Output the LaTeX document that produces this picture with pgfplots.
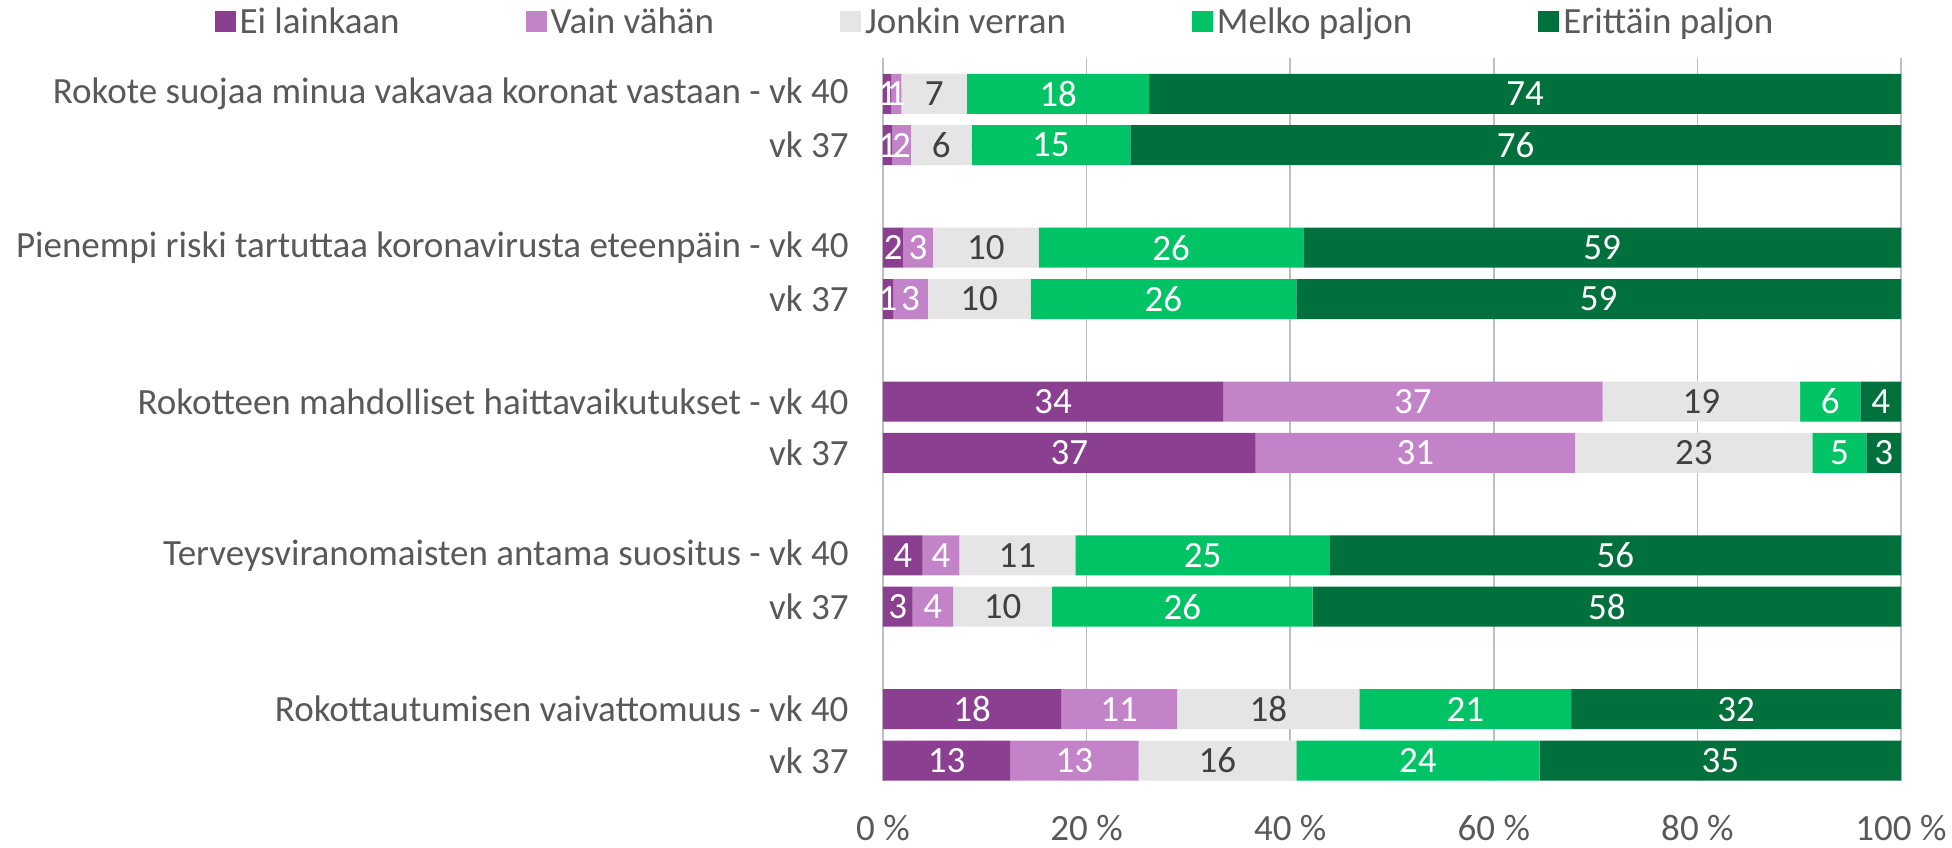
\documentclass[border=0pt]{standalone}
\usepackage{pgfplots}
\usepackage{pgfplotstable}
\pgfplotsset{compat=1.18}
\usepackage{fontspec}
\setmainfont{Carlito}
\definecolor{c1}{HTML}{8B3F91}
\definecolor{c2}{HTML}{C383C8}
\definecolor{c3}{HTML}{E5E5E5}
\definecolor{c4}{HTML}{00C366}
\definecolor{c5}{HTML}{00703C}
\definecolor{txt}{HTML}{595959}
\definecolor{dtxt}{HTML}{404040}
\definecolor{grid}{HTML}{D9D9D9}
\pgfplotstableread{
y a b c d e la lb lc ld le
0 0.8 1.0 6.45 17.9 73.85 1 1 7 18 74
1 0.9 1.85 5.95 15.6 75.7 1 2 6 15 76
3 2.0 2.9 10.4 26.0 58.7 2 3 10 26 59
4 1.0 3.4 10.1 26.1 59.4 1 3 10 26 59
6 33.4 37.3 19.4 5.9 4.0 34 37 19 6 4
7 36.6 31.4 23.3 5.3 3.4 37 31 23 5 3
9 3.9 3.6 11.4 25.0 56.1 4 4 11 25 56
10 2.9 4.0 9.7 25.6 57.8 3 4 10 26 58
12 17.5 11.4 17.9 20.8 32.4 18 11 18 21 32
13 12.5 12.6 15.5 23.9 35.5 13 13 16 24 35
}\data
\newcommand{\fnt}{\fontsize{18.5}{22}\selectfont}
\begin{document}
\begin{tikzpicture}[font=\fnt]
\useasboundingbox (-441.5pt,-33pt) rectangle (534.5pt,390.5pt);
\begin{axis}[
  at={(0,0)}, anchor=south west,
  scale only axis, width=509pt, height=361.5pt,
  xbar stacked, bar width=0.78,
  xmin=0, xmax=100, ymin=-0.7, ymax=13.4, y dir=reverse,
  xtick={0,20,40,60,80,100},
  xticklabels={0~\%,20~\%,40~\%,60~\%,80~\%,100~\%},
  ytick={0,1,3,4,6,7,9,10,12,13},
  yticklabels={Rokote suojaa minua vakavaa koronat vastaan - vk 40, vk 37,
    Pienempi riski tartuttaa koronavirusta eteenpäin - vk 40, vk 37,
    Rokotteen mahdolliset haittavaikutukset - vk 40, vk 37,
    Terveysviranomaisten antama suositus - vk 40, vk 37,
    Rokottautumisen vaivattomuus - vk 40, vk 37},
  major tick length=0,
  axis line style={draw=none},
  clip=false,
  xmajorgrids, grid style={grid, line width=0.8pt},
  tick label style={font=\fnt, text=txt},
  yticklabel style={inner sep=0pt, xshift=-17pt},
  xticklabel style={inner sep=0pt, yshift=-17pt},
  legend style={draw=none, font=\fnt, text=txt, legend columns=5,
    at={(axis description cs:0.111,1.0498)}, anchor=center,
    /tikz/every even column/.append style={column sep=61pt},
    inner sep=0pt},
  legend image code/.code={\fill[#1,draw=none] (0pt,-5.25pt) rectangle (10.5pt,5.25pt);},
  nodes near coords,
  point meta=explicit symbolic,
  every node near coord/.append style={font=\fnt, anchor=center},
]
\addplot[fill=c1, draw=none, every node near coord/.append style={text=white}] table[x=a, y=y, meta=la] {\data};
\addplot[fill=c2, draw=none, every node near coord/.append style={text=white}] table[x=b, y=y, meta=lb] {\data};
\addplot[fill=c3, draw=none, every node near coord/.append style={text=dtxt}] table[x=c, y=y, meta=lc] {\data};
\addplot[fill=c4, draw=none, every node near coord/.append style={text=white}] table[x=d, y=y, meta=ld] {\data};
\addplot[fill=c5, draw=none, every node near coord/.append style={text=white}] table[x=e, y=y, meta=le] {\data};
\legend{Ei lainkaan, Vain vähän, Jonkin verran, Melko paljon, Erittäin paljon}
\end{axis}
\end{tikzpicture}
\end{document}
